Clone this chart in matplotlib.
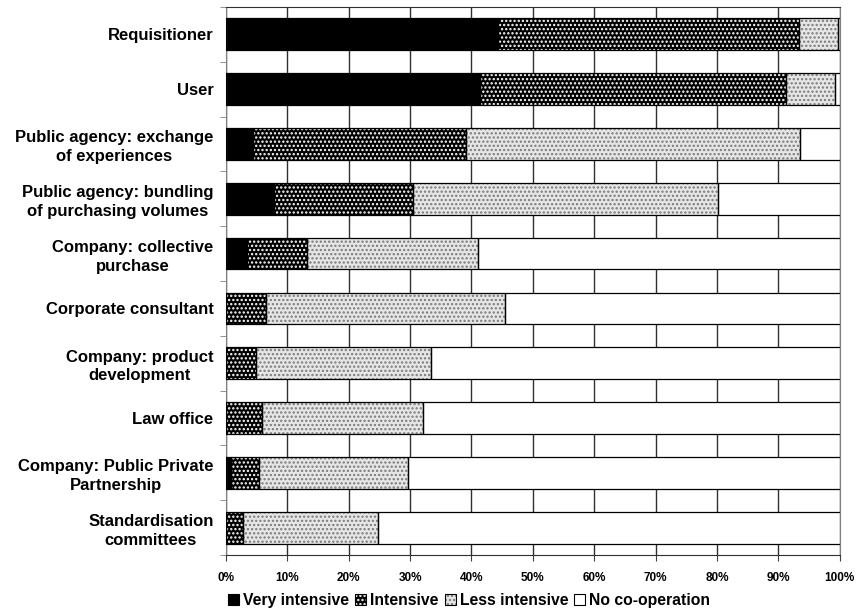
import matplotlib
import numpy as np

matplotlib.use("Agg")
from matplotlib import pyplot as plt
from matplotlib.patches import Patch

plt.rcParams["font.family"] = ["Liberation Sans", "DejaVu Sans"]
plt.rcParams["hatch.linewidth"] = 1.1

categories = [
    "Requisitioner",
    "User",
    "Public agency: exchange\nof experiences",
    "Public agency: bundling\nof purchasing volumes",
    "Company: collective\npurchase",
    "Corporate consultant",
    "Company: product\ndevelopment",
    "Law office",
    "Company: Public Private\nPartnership",
    "Standardisation\ncommittees",
]
very_intensive = [44.3, 41.4, 4.4, 7.8, 3.4, 0.0, 0.0, 0.0, 0.8, 0.0]
intensive = [49.0, 49.8, 34.7, 22.7, 9.8, 6.5, 4.9, 5.8, 4.6, 2.7]
less_intensive = [6.4, 8.0, 54.4, 49.6, 27.8, 38.9, 28.5, 26.3, 24.2, 22.1]
no_cooperation = [0.3, 0.8, 6.5, 19.9, 59.0, 54.6, 66.6, 67.9, 70.4, 75.2]
series_names = ["Very intensive", "Intensive", "Less intensive", "No co-operation"]
x_ticks = list(range(0, 101, 10))

styles = [
    dict(face="black", hatch=None, hatch_color="black"),
    dict(face="black", hatch="....", hatch_color="white"),
    dict(face="#e6e6e6", hatch="....", hatch_color="#7a7a7a"),
    dict(face="white", hatch=None, hatch_color="white"),
]

figure = plt.figure(figsize=(8.56, 6.13), dpi=100)
axis = figure.add_axes([0.264, 0.0946, 0.717, 0.8940])

y = np.arange(len(categories))
left = np.zeros(len(categories))
handles = []
for name, values, style in zip(
    series_names, [very_intensive, intensive, less_intensive, no_cooperation], styles
):
    values = np.asarray(values)
    axis.barh(
        y, values, left=left, height=0.58, color=style["face"],
        edgecolor=style["hatch_color"], hatch=style["hatch"], linewidth=0, zorder=2,
    )
    axis.barh(
        y, values, left=left, height=0.58, fill=False,
        edgecolor="black", linewidth=0.9, zorder=3,
    )
    left += values
    handles.append(
        (
            Patch(facecolor=style["face"], edgecolor=style["hatch_color"], hatch=style["hatch"], linewidth=0),
            Patch(fill=False, edgecolor="black", linewidth=0.8),
        )
    )

axis.set_xlim(0, 100)
axis.set_ylim(len(categories) - 0.5, -0.5)
axis.set_xticks(x_ticks)
axis.set_xticklabels([f"{t}%" for t in x_ticks], fontsize=8.5, fontweight="bold")
axis.set_yticks(y)
axis.set_yticklabels(categories, fontsize=12, fontweight="bold", multialignment="center", linespacing=1.3)
axis.tick_params(axis="y", length=0, pad=9)
axis.set_yticks(np.arange(len(categories) + 1) - 0.5, minor=True)
axis.tick_params(axis="y", which="minor", length=4, color="#808080")
axis.tick_params(axis="x", length=4, color="#404040", pad=8)
axis.xaxis.grid(True, color="#303030", linewidth=1.0, zorder=0)
axis.set_axisbelow(True)
for side in ("top", "bottom"):
    axis.spines[side].set_color("#303030")
for side in ("left", "right"):
    axis.spines[side].set_color("#808080")

figure.legend(
    handles, series_names, loc="center", bbox_to_anchor=(0.548, 0.02), ncol=4,
    frameon=False, handlelength=0.7, handleheight=0.7, handletextpad=0.25,
    columnspacing=0.4, prop={"size": 11.3, "weight": "bold"},
)

figure.savefig("out.png", dpi=100, facecolor="white")
plt.close(figure)
